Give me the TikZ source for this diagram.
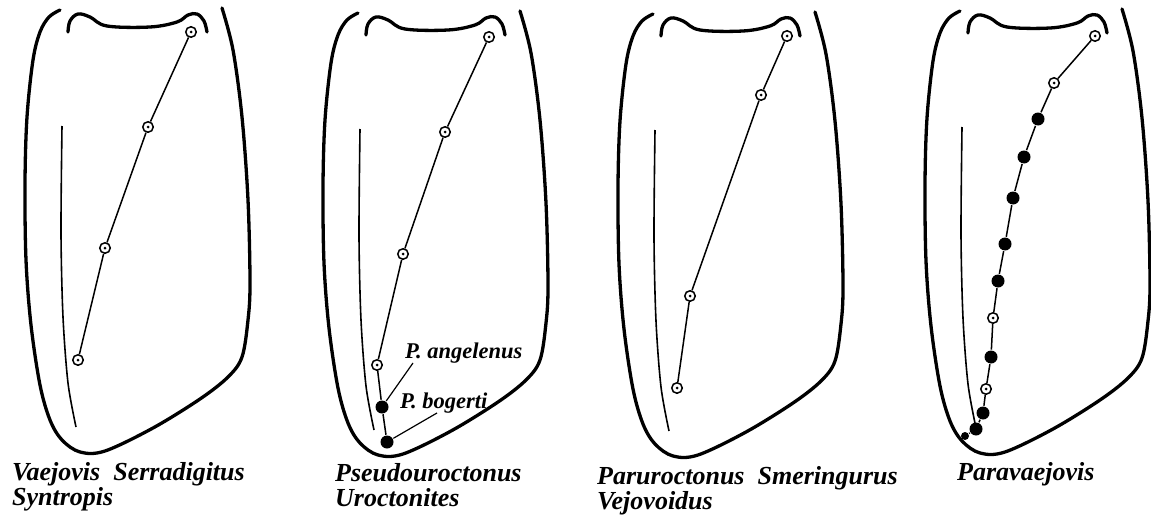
\documentclass[tikz,border=0pt]{standalone}
\usepackage{fontspec}
\setmainfont{Liberation Serif}
\usepackage{tikz}

\tikzset{
  seta/.style={circle, draw, line width=1.5pt, fill=white, inner sep=0pt, minimum size=10.5pt,
    path picture={\fill[black] (path picture bounding box.center) circle (1.5pt);}},
  setafull/.style={circle, fill, inner sep=0pt, minimum size=13pt, outer sep=0.8pt},
  row/.style={line width=1.5pt},
  rim/.style={line width=3.3pt, line cap=round},
  taxon/.style={font=\fontsize{26}{25}\bfseries\itshape\selectfont, inner sep=0pt, align=left, anchor=base west},
  species/.style={font=\fontsize{22.5}{22}\bfseries\itshape\selectfont, inner sep=0pt, anchor=base west}
}

% outline of the manus, drawn at the origin of the current scope
\newcommand{\manus}{%
  \draw[rim] plot[smooth, tension=0.55] coordinates {(60,10) (49,17) (40,32) (33,60) (27,117) (25,183)
    (26,260) (31,325) (40,385) (50,420) (62,440) (80,452) (105,451) (153,428) (200,399) (228,377)
    (242,357) (248,320) (250,283) (248,200) (242,117) (233,50) (222,8)};
  \draw[rim] plot[smooth, tension=0.6] coordinates {(68,32) (70,21) (78,14) (90,17) (107,26) (150,27)
    (177,22) (188,15) (197,14) (204,21) (207,32)};
  \draw[line width=1.6pt] plot[smooth] coordinates {(62,126) (61,233) (63,317) (68,383) (76,427)};
}

\begin{document}
\begin{tikzpicture}[x=1pt, y=-1pt]
  \useasboundingbox (0,0) rectangle (1151,519);

  \begin{scope}\manus\end{scope}
  \begin{scope}[shift={(298,3)}]\manus\end{scope}
  \begin{scope}[shift={(593,4)}]\manus\end{scope}
  \begin{scope}[shift={(900,1)}]\manus\end{scope}

  % Vaejovis
  \node[seta] (a1) at (191,32) {};
  \node[seta] (a2) at (148,127) {};
  \node[seta] (a3) at (105,248) {};
  \node[seta] (a4) at (78,360) {};
  \draw[row] (a1) -- (a2) -- (a3) -- (a4);
  \node[taxon] (va) at (12,505) {Vaejovis\hspace{0.5em}Serradigitus\\Syntropis};

  % Pseudouroctonus
  \node[seta] (b1) at (489,37) {};
  \node[seta] (b2) at (445,132) {};
  \node[seta] (b3) at (403,254) {};
  \node[seta] (b4) at (377,365) {};
  \node[setafull] (b5) at (382,407) {};
  \node[setafull] (b6) at (387,442) {};
  \draw[row] (b1) -- (b2) -- (b3) -- (b4) -- (b5) -- (b6);
  \node[species] (ang) at (405,358) {P. angelenus};
  \node[species] (bog) at (400,408) {P. bogerti};
  \draw[line width=1.2pt] ([xshift=8pt]ang.south west) -- (b5);
  \draw[line width=1.2pt] ([xshift=37pt]bog.south west) -- (b6);
  \node[taxon] (ps) at (335,506) {Pseudouroctonus\\Uroctonites};

  % Paruroctonus
  \node[seta] (c1) at (787,36) {};
  \node[seta] (c2) at (761,95) {};
  \node[seta] (c3) at (690,296) {};
  \node[seta] (c4) at (677,388) {};
  \draw[row] (c1) -- (c2) -- (c3) -- (c4);
  \node[taxon] (pa) at (597,509) {Paruroctonus\hspace{0.5em}Smeringurus\\Vejovoidus};

  % Paravaejovis
  \node[seta] (d1) at (1095,36) {};
  \node[seta] (d2) at (1054,83) {};
  \node[setafull] (d3) at (1038,119) {};
  \node[setafull] (d4) at (1024,157) {};
  \node[setafull] (d5) at (1013,198) {};
  \node[setafull] (d6) at (1005,244) {};
  \node[setafull] (d7) at (998,281) {};
  \node[seta] (d8) at (993,318) {};
  \node[setafull] (d9) at (991,357) {};
  \node[seta] (d10) at (986,389) {};
  \node[setafull] (d11) at (983,413) {};
  \node[setafull] (d12) at (976,429) {};
  \node[setafull, minimum size=8pt] (d13) at (965,436) {};
  \draw[row] (d1) -- (d2) -- (d3) -- (d4) -- (d5) -- (d6) -- (d7) -- (d8) -- (d9) -- (d10) -- (d11) -- (d12);
  \draw[row, densely dotted] (d12) -- (d13);
  \node[taxon] (pv) at (957,480) {Paravaejovis};
\end{tikzpicture}
\end{document}
